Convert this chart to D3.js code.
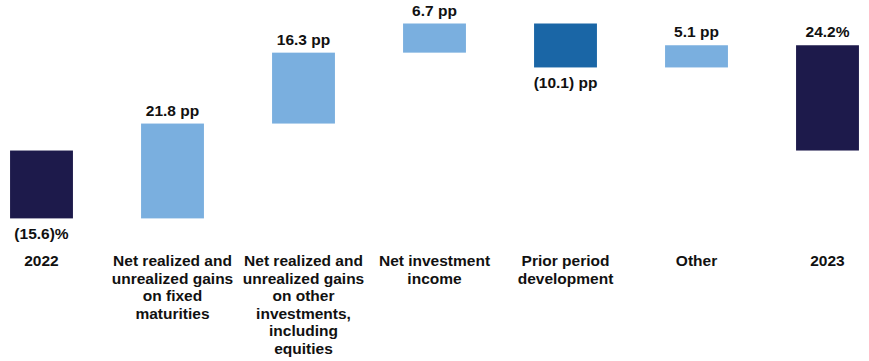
<!DOCTYPE html>
<html>
<head>
<meta charset="utf-8">
<script src="https://cdn.jsdelivr.net/npm/d3@7"></script>
<style>
  body { margin: 0; background: #fff; }
  text { font-family: "Liberation Sans", Arial, sans-serif; font-weight: bold; fill: #111; }
</style>
</head>
<body>
<script>
const width = 869;
const height = 361;

// categories (tick labels, already broken into lines)
const categories = [
  ["2022"],
  ["Net realized and", "unrealized gains", "on fixed", "maturities"],
  ["Net realized and", "unrealized gains", "on other", "investments,", "including", "equities"],
  ["Net investment", "income"],
  ["Prior period", "development"],
  ["Other"],
  ["2023"]
];
const values = [-15.6, 21.8, 16.3, 6.7, -10.1, 5.1, 24.2];
const kinds = ["total", "delta", "delta", "delta", "delta", "delta", "total"];
const valueLabels = ["(15.6)%", "21.8 pp", "16.3 pp", "6.7 pp", "(10.1) pp", "5.1 pp", "24.2%"];

const colors = { total: "#1d1a4b", up: "#7aafdf", down: "#1a66a6" };

// build waterfall steps
let running = 0;
const bars = values.map((v, i) => {
  let start, end;
  if (kinds[i] == "total") {
    start = 0;
    end = v;
  } else {
    start = running;
    end = running + v;
  }
  running = end;
  return {
    i: i,
    value: v,
    start: start,
    end: end,
    kind: kinds[i],
    label: valueLabels[i],
    lines: categories[i]
  };
});

const svg = d3.select("body")
  .append("svg")
  .attr("width", width)
  .attr("height", height);

const x = d3.scaleBand()
  .domain(d3.range(values.length))
  .range([-24, 893])
  .paddingInner(0.52)
  .paddingOuter(0.26);

const y = d3.scaleLinear()
  .domain([-15.6, 29.2])
  .range([218.4, 23.5]);

function barColor(d) {
  if (d.kind == "total") return colors.total;
  return d.value < 0 ? colors.down : colors.up;
}

svg.selectAll("rect.bar")
  .data(bars)
  .enter()
  .append("rect")
  .attr("class", "bar")
  .attr("x", d => x(d.i))
  .attr("width", x.bandwidth())
  .attr("y", d => y(Math.max(d.start, d.end)))
  .attr("height", d => Math.abs(y(d.start) - y(d.end)))
  .attr("fill", barColor);

// value labels: above for gains, below for losses
svg.selectAll("text.value")
  .data(bars)
  .enter()
  .append("text")
  .attr("class", "value")
  .attr("x", d => x(d.i) + x.bandwidth() / 2)
  .attr("y", d => d.value < 0
    ? y(Math.min(d.start, d.end)) + 21
    : y(Math.max(d.start, d.end)) - 8)
  .attr("text-anchor", "middle")
  .attr("font-size", 15.5)
  .text(d => d.label);

// category labels
const cats = svg.selectAll("text.cat")
  .data(bars)
  .enter()
  .append("text")
  .attr("class", "cat")
  .attr("text-anchor", "middle")
  .attr("font-size", 15.5)
  .attr("x", d => x(d.i) + x.bandwidth() / 2)
  .attr("y", 266);

cats.selectAll("tspan")
  .data(d => d.lines.map(l => ({ text: l, x: x(d.i) + x.bandwidth() / 2 })))
  .enter()
  .append("tspan")
  .attr("x", t => t.x)
  .attr("dy", (t, j) => j == 0 ? 0 : 17.5)
  .text(t => t.text);
</script>
</body>
</html>
